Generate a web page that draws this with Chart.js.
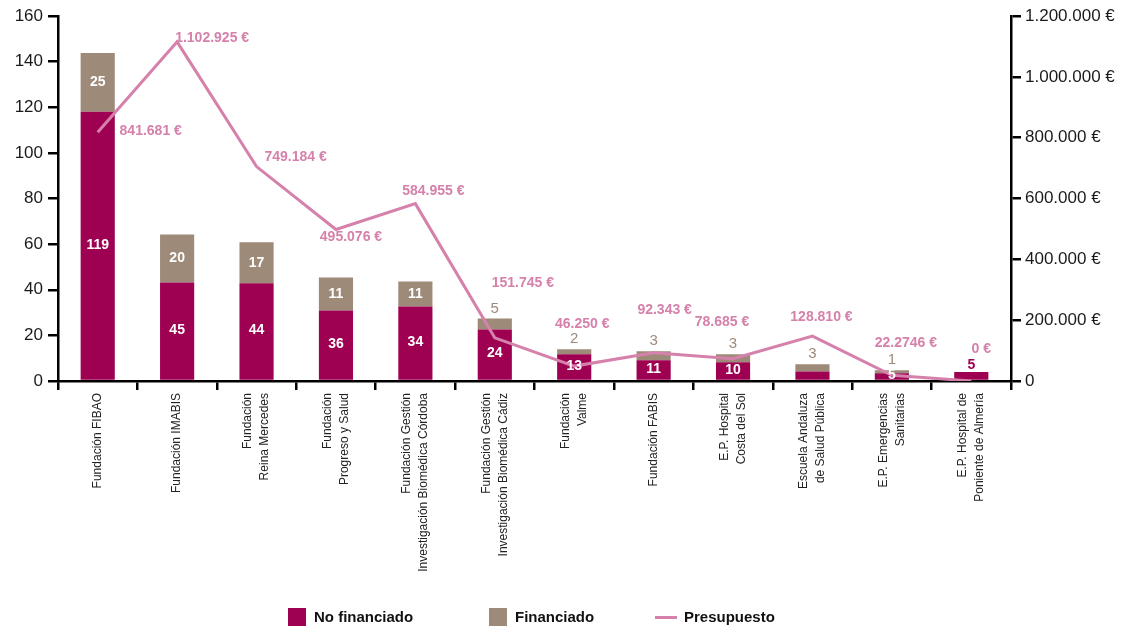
<!DOCTYPE html>
<html>
<head>
<meta charset="utf-8">
<script src="https://cdn.jsdelivr.net/npm/chart.js@4"></script>
<style>
    body { margin: 0; background: #fff; }
    #wrap { position: relative; width: 1123px; height: 627px; }
    #legend { position: absolute; top: 607px; left: 0; width: 1123px; height: 20px; font: bold 15px 'Liberation Sans', Arial, sans-serif; color: #111; }
    #legend span { position: absolute; top: 0; line-height: 20px; white-space: nowrap; }
    #legend i { position: absolute; display: block; }
</style>
</head>
<body>
<div id="wrap">
    <canvas id="proyectosChart" width="1123" height="627"></canvas>
    <div id="legend">
        <i style="left:288px; top:1px; width:18px; height:18px; background:#9e0052;"></i>
        <span style="left:314px;">No financiado</span>
        <i style="left:489px; top:1px; width:18px; height:18px; background:#9e8a79;"></i>
        <span style="left:515px;">Financiado</span>
        <i style="left:655px; top:9px; width:22px; height:3px; background:#d581ab;"></i>
        <span style="left:684px;">Presupuesto</span>
    </div>
</div>
<script>
// datos
var categorias = [
    'Fundación FIBAO',
    'Fundación IMABIS',
    ['Fundación', 'Reina Mercedes'],
    ['Fundación', 'Progreso y Salud'],
    ['Fundación Gestión', 'Investigación Biomédica Córdoba'],
    ['Fundación Gestión', 'Investigación Biomédica Cádiz'],
    ['Fundación', 'Valme'],
    'Fundación FABIS',
    ['E.P. Hospital', 'Costa del Sol'],
    ['Escuela Andaluza', 'de Salud Pública'],
    ['E.P. Emergencias', 'Sanitarias'],
    ['E.P. Hospital de', 'Poniente de Almería']
];
var noFinanciado = [118, 43.2, 42.9, 30.9, 32.7, 22.6, 11.7, 9.1, 8.2, 4.2, 3.4, 3.9];
var financiado = [25.8, 21, 17.9, 14.5, 10.9, 4.8, 2.2, 3.9, 3.5, 3.1, 1.3, 0];
var presupuesto = [818000, 1115000, 705000, 498000, 583000, 142000, 49000, 93000, 73500, 147700, 18700, 0];

var noFinanciadoTxt = ['119', '45', '44', '36', '34', '24', '13', '11', '10', '', '5', '5'];
var financiadoTxt = ['25', '20', '17', '11', '11', '5', '2', '3', '3', '3', '1', ''];
var presupuestoTxt = ['841.681 €', '1.102.925 €', '749.184 €', '495.076 €', '584.955 €', '151.745 €',
    '46.250 €', '92.343 €', '78.685 €', '128.810 €', '22.2746 €', '0 €'];

var ticksIzq = [0, 20, 40, 60, 80, 100, 120, 140, 160];
var ticksDer = [0, 200000, 400000, 600000, 800000, 1000000, 1200000];

// colores y posiciones de etiquetas
var OSCURO = '#9e0052';
var GRIS = '#9e8a79';
var ROSA = '#d581ab';
var FUENTE = "'Liberation Sans', Arial, sans-serif";
var desplazLinea = [[53, -1], [35, -4], [39, -9], [15, 8], [18, -13], [28, -55],
    [8, -42], [11, -43], [-11, -37], [9, -19], [14, -32], [10, -32]];

function euros(v) {
    if (v === 0) return '0';
    return String(v).replace(/\B(?=(\d{3})+(?!\d))/g, '.') + ' €';
}

var etiquetasPlugin = {
    id: 'etiquetas',
    afterDatasetsDraw: function (chart) {
        var ctx = chart.ctx;
        var metaNo = chart.getDatasetMeta(0);
        var metaFi = chart.getDatasetMeta(1);
        var metaLinea = chart.getDatasetMeta(2);
        ctx.save();
        ctx.textAlign = 'center';
        ctx.textBaseline = 'middle';

        metaNo.data.forEach(function (bar, i) {
            var txt = noFinanciadoTxt[i];
            if (!txt) return;
            ctx.font = 'bold 14px ' + FUENTE;
            if (!financiado[i]) {
                ctx.fillStyle = OSCURO;
                ctx.fillText(txt, bar.x, bar.y - 7);
            } else {
                ctx.fillStyle = '#fff';
                ctx.fillText(txt, bar.x, (bar.y + bar.base) / 2 - 1);
            }
        });

        metaFi.data.forEach(function (bar, i) {
            var txt = financiadoTxt[i];
            if (!txt) return;
            if (bar.base - bar.y > 16) {
                ctx.font = 'bold 14px ' + FUENTE;
                ctx.fillStyle = '#fff';
                ctx.fillText(txt, bar.x, (bar.y + bar.base) / 2);
            } else {
                ctx.font = '15px ' + FUENTE;
                ctx.fillStyle = GRIS;
                ctx.fillText(txt, bar.x, bar.y - 10);
            }
        });

        ctx.font = 'bold 14px ' + FUENTE;
        ctx.fillStyle = ROSA;
        metaLinea.data.forEach(function (pt, i) {
            ctx.fillText(presupuestoTxt[i], pt.x + desplazLinea[i][0], pt.y + desplazLinea[i][1]);
        });
        ctx.restore();
    },
    // rótulos de categoría girados y centrados en su columna
    afterDraw: function (chart) {
        var ctx = chart.ctx;
        var xScale = chart.scales.x;
        var interlinea = 17;
        ctx.save();
        ctx.font = '12px ' + FUENTE;
        ctx.fillStyle = '#222';
        ctx.textAlign = 'right';
        ctx.textBaseline = 'middle';
        categorias.forEach(function (cat, i) {
            var lineas = Array.isArray(cat) ? cat : [cat];
            var cx = xScale.getPixelForValue(i);
            lineas.forEach(function (linea, j) {
                var x = cx + (j - (lineas.length - 1) / 2) * interlinea;
                ctx.save();
                ctx.translate(x, chart.chartArea.bottom + 12);
                ctx.rotate(-Math.PI / 2);
                ctx.fillText(linea, 0, 0);
                ctx.restore();
            });
        });
        ctx.restore();
    }
};

var ctx = document.getElementById('proyectosChart').getContext('2d');
new Chart(ctx, {
    type: 'bar',
    data: {
        labels: categorias,
        datasets: [{
            label: 'No financiado',
            data: noFinanciado,
            backgroundColor: OSCURO,
            yAxisID: 'y',
            order: 2
        }, {
            label: 'Financiado',
            data: financiado,
            backgroundColor: GRIS,
            yAxisID: 'y',
            order: 2
        }, {
            type: 'line',
            label: 'Presupuesto',
            data: presupuesto,
            borderColor: ROSA,
            backgroundColor: ROSA,
            borderWidth: 3,
            pointRadius: 0,
            tension: 0,
            yAxisID: 'y1',
            order: 1
        }]
    },
    options: {
        responsive: false,
        animation: false,
        barPercentage: 0.43,
        categoryPercentage: 1,
        layout: { padding: { top: 16, left: 0, right: 0, bottom: 0 } },
        plugins: {
            legend: { display: false },
            tooltip: { enabled: false }
        },
        scales: {
            x: {
                stacked: true,
                afterFit: function (scale) { scale.height = 246; },
                grid: {
                    offset: true,
                    drawOnChartArea: false,
                    tickLength: 9,
                    color: '#000',
                    lineWidth: 2.5
                },
                border: { color: '#000', width: 2.5 },
                ticks: { display: false }
            },
            y: {
                stacked: true,
                position: 'left',
                min: 0,
                max: 160,
                afterFit: function (scale) { scale.width = 58; },
                afterBuildTicks: function (scale) {
                    scale.ticks = ticksIzq.map(function (v) { return { value: v }; });
                },
                grid: {
                    drawOnChartArea: false,
                    tickLength: 10,
                    color: '#000',
                    lineWidth: 2.5
                },
                border: { color: '#000', width: 2.5 },
                ticks: {
                    padding: 5,
                    color: '#1a1a1a',
                    font: { family: FUENTE, size: 17 }
                }
            },
            y1: {
                position: 'right',
                min: 0,
                max: 1200000,
                afterFit: function (scale) { scale.width = 112; },
                afterBuildTicks: function (scale) {
                    scale.ticks = ticksDer.map(function (v) { return { value: v }; });
                },
                grid: {
                    drawOnChartArea: false,
                    tickLength: 10,
                    color: '#000',
                    lineWidth: 2.5
                },
                border: { color: '#000', width: 2.5 },
                ticks: {
                    padding: 4,
                    color: '#1a1a1a',
                    font: { family: FUENTE, size: 17 },
                    callback: function (v) { return euros(v); }
                }
            }
        }
    },
    plugins: [etiquetasPlugin]
});
</script>
</body>
</html>
